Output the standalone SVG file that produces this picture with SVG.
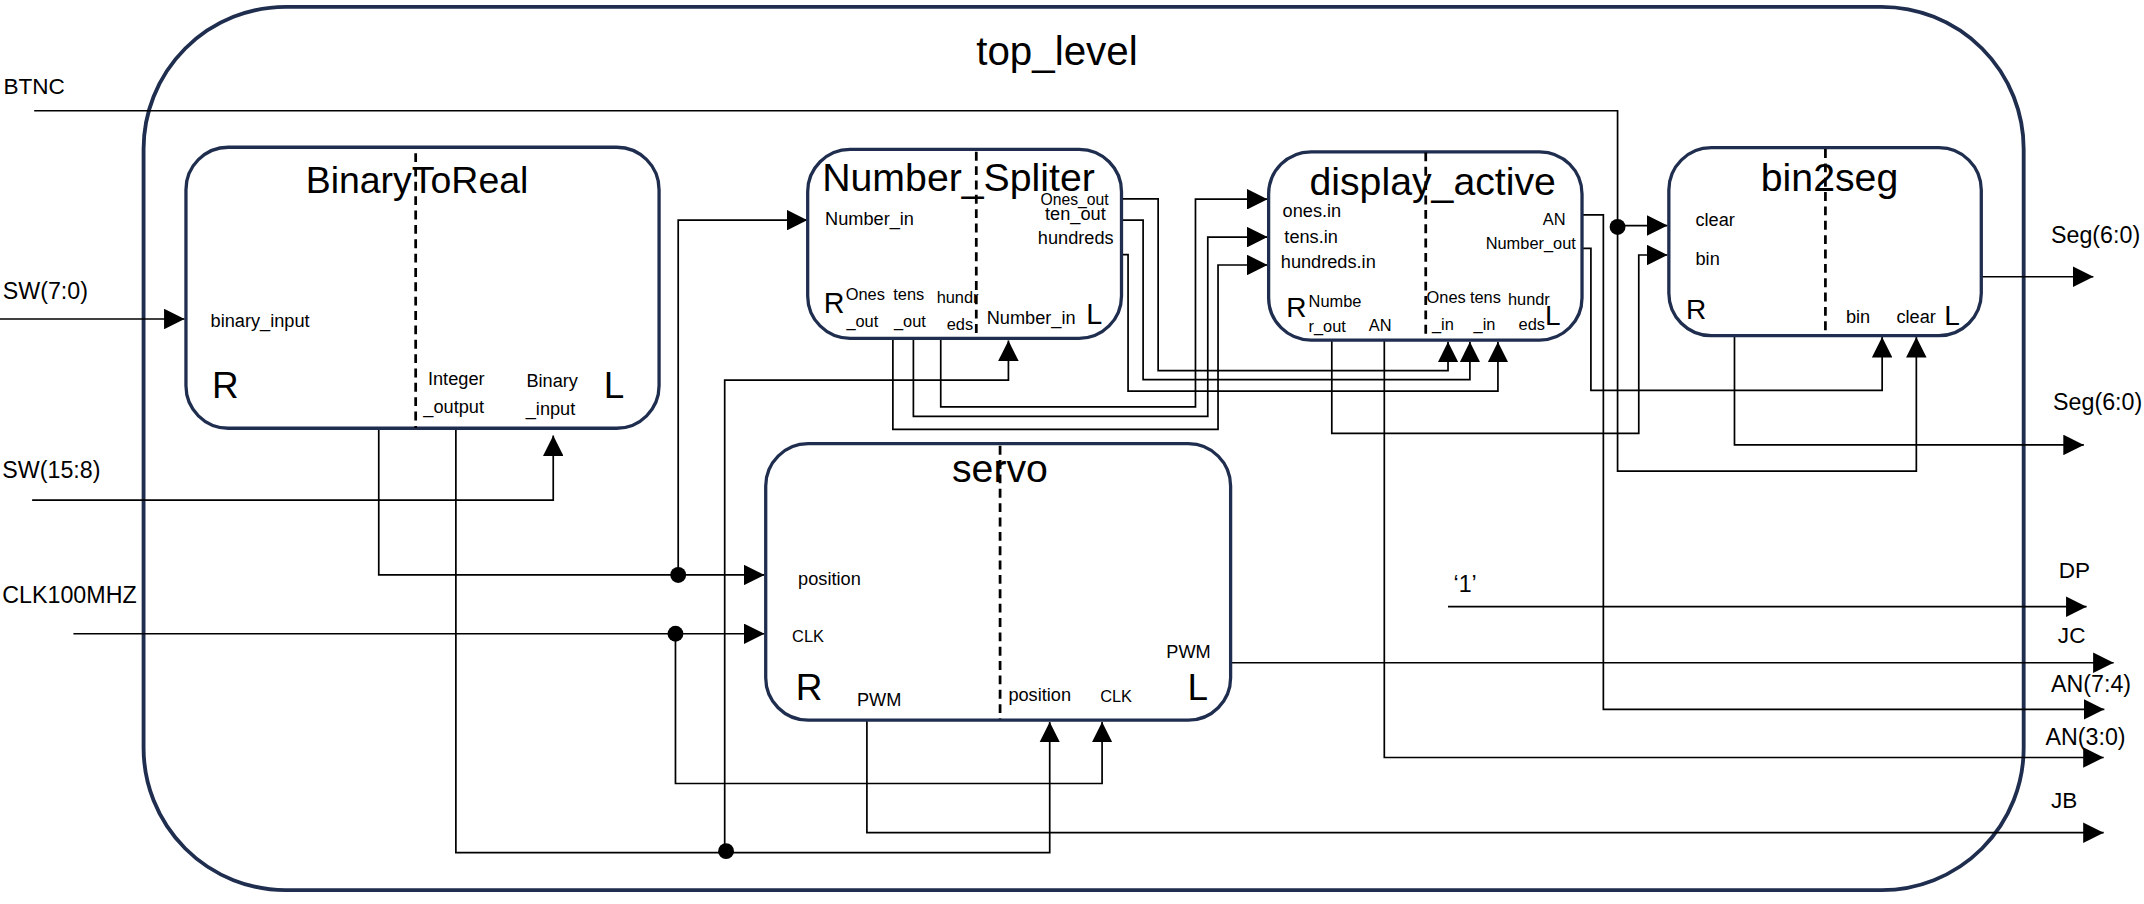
<svg xmlns="http://www.w3.org/2000/svg" width="2144" height="904" viewBox="0 0 2144 904">
<style>
.outer{fill:none;stroke:#1F2D4F;stroke-width:2.8}
.box{fill:none;stroke:#1F2D4F;stroke-width:2.4}
.dash{fill:none;stroke:#000;stroke-width:2;stroke-dasharray:6.5 4}
.w{fill:none;stroke:#000;stroke-width:1.25}
.wa{fill:none;stroke:#000;stroke-width:1.25;marker-end:url(#ah)}
.dot{fill:#000}
text{font-family:"Liberation Sans",Arial,sans-serif;fill:#000}
.tt{font-size:29.5px;text-anchor:middle}
.t{font-size:28.7px;text-anchor:middle}
.t2{font-size:27.4px;text-anchor:middle}
.p{font-size:13.3px}
.ps{font-size:12px}
.pt{font-size:11.5px}
.pk{font-size:12px}
.end{text-anchor:end}
.sig{font-size:17px}
.sig2{font-size:16.5px}
.big{font-size:27px}
.mid{font-size:21px}
.sm{font-size:20.5px}
</style>
<defs>
<marker id="ah" markerUnits="userSpaceOnUse" markerWidth="15" markerHeight="15" viewBox="0 0 15 15" refX="15" refY="7.5" orient="auto"><path d="M0,0L15,7.5L0,15z" fill="#000"/></marker>
</defs>
<rect width="2144" height="904" fill="#fff"/>
<g transform="scale(1.36735)">
<g id="top_level">
<rect class="outer" x="105" y="5" width="1375" height="646" rx="104"/>
<text class="tt" x="773" y="47.5">top_level</text>
</g>
<g id="connectors">
<polyline class="wa" points="25,81 1183,81 1183,344.5 1401.5,344.5 1401.5,246.5"/>
<polyline class="wa" points="1183,165 1219.5,165"/>
<circle class="dot" cx="1183" cy="166" r="5.8"/>
<polyline class="wa" points="0,233.3 135,233.3"/>
<polyline class="wa" points="23.5,365.7 404.6,365.7 404.6,318.5"/>
<polyline class="wa" points="53.7,463.5 559,463.5"/>
<circle class="dot" cx="494" cy="463.5" r="5.8"/>
<polyline class="wa" points="494,463.5 494,573 806,573 806,528"/>
<polyline class="wa" points="277,313.2 277,420.5 559,420.5"/>
<circle class="dot" cx="496" cy="420.5" r="5.8"/>
<polyline class="wa" points="496,420.5 496,161 590.5,161"/>
<polyline class="wa" points="333.4,313.2 333.4,623.5 767.7,623.5 767.7,528"/>
<circle class="dot" cx="531" cy="622.5" r="5.8"/>
<polyline class="wa" points="530,623.5 530,278 737.5,278 737.5,249"/>
<polyline class="wa" points="820.4,145.5 847,145.5 847,271 1059,271 1059,250"/>
<polyline class="wa" points="820.4,161 836,161 836,277.7 1075,277.7 1075,250"/>
<polyline class="wa" points="820.4,186.2 825,186.2 825,286 1095.5,286 1095.5,250"/>
<polyline class="wa" points="688,247.4 688,297.5 874.3,297.5 874.3,145.7 927,145.7"/>
<polyline class="wa" points="668,247.4 668,304.5 883.3,304.5 883.3,173.4 927,173.4"/>
<polyline class="wa" points="653,247.4 653,314 890.8,314 890.8,193.8 927,193.8"/>
<polyline class="wa" points="1157,157.2 1172.6,157.2 1172.6,518.8 1539,518.8"/>
<polyline class="wa" points="1157,181.6 1163.5,181.6 1163.5,285.5 1376.5,285.5 1376.5,246.5"/>
<polyline class="wa" points="974,248.7 974,317 1198.5,317 1198.5,186.5 1219.5,186.5"/>
<polyline class="wa" points="1012.4,248.7 1012.4,554 1538.5,554"/>
<polyline class="wa" points="1449,202.4 1531,202.4"/>
<polyline class="wa" points="1268.5,245.5 1268.5,325.4 1524,325.4"/>
<polyline class="wa" points="1059,443.7 1526,443.7"/>
<polyline class="wa" points="900,484.7 1545.8,484.7"/>
<polyline class="wa" points="634,526.7 634,609 1538.5,609"/>
<line class="w" x1="333.4" y1="313.2" x2="386" y2="313.2"/>
<line class="w" x1="632" y1="247.4" x2="688" y2="247.4"/>
<line class="w" x1="974" y1="248.7" x2="1012.4" y2="248.7"/>
<line class="w" x1="1268.5" y1="245.5" x2="1286" y2="245.5"/>
<line class="w" x1="634" y1="526.7" x2="667.6" y2="526.7"/>
</g>
<g id="signals">
<text class="sig2" x="2.5" y="69">BTNC</text>
<text class="sig" x="2" y="218.7">SW(7:0)</text>
<text class="sig" x="1.7" y="349.9">SW(15:8)</text>
<text class="sig" x="1.7" y="441.3">CLK100MHZ</text>
<text class="sig" x="1500" y="178">Seg(6:0)</text>
<text class="sig" x="1501.5" y="300">Seg(6:0)</text>
<text class="sig2" x="1505.7" y="423">DP</text>
<text class="sig" x="1063" y="433">‘1’</text>
<text class="sig2" x="1505" y="470.5">JC</text>
<text class="sig" x="1500" y="506">AN(7:4)</text>
<text class="sig" x="1496" y="545">AN(3:0)</text>
<text class="sig2" x="1500" y="591">JB</text>
</g>
<g id="BinaryToReal">
<rect class="box" x="136" y="107.7" width="346" height="205.5" rx="31"/>
<line class="dash" x1="304" y1="112" x2="304" y2="313"/>
<text class="t2" x="305" y="141">BinaryToReal</text>
<text class="p" x="154" y="239">binary_input</text>
<text class="big" x="155" y="291">R</text>
<text class="p" x="313" y="281.6">Integer</text>
<text class="p" x="309.6" y="301.8">_output</text>
<text class="p" x="385" y="282.8">Binary</text>
<text class="p" x="384.5" y="303.5">_input</text>
<text class="big" x="441.6" y="291">L</text>
</g>
<g id="Number_Spliter">
<rect class="box" x="590.7" y="109.2" width="229.5" height="138.2" rx="31"/>
<line class="dash" x1="714" y1="111" x2="714" y2="244"/>
<text class="t" x="701" y="139.5">Number_Spliter</text>
<text class="pt" x="761" y="150">Ones_out</text>
<text class="p" x="764.3" y="161">ten_out</text>
<text class="p" x="603.4" y="164.6">Number_in</text>
<text class="p" x="759" y="178.7">hundreds</text>
<text class="mid" x="602.5" y="229.2">R</text>
<text class="ps" x="618.5" y="219.4">Ones</text>
<text class="ps" x="619" y="239.5">_out</text>
<text class="ps" x="653.3" y="219.4">tens</text>
<text class="ps" x="653.8" y="239.5">_out</text>
<text class="ps" x="685" y="221.8">hundr</text>
<text class="ps" x="692.4" y="241.4">eds</text>
<text class="p" x="721.6" y="237.2">Number_in</text>
<text class="mid" x="794.5" y="237">L</text>
</g>
<g id="display_active">
<rect class="box" x="927.8" y="111" width="229.2" height="137.7" rx="31"/>
<line class="dash" x1="1042.7" y1="111.5" x2="1042.7" y2="244"/>
<text class="t" x="1047.8" y="142.6">display_active</text>
<text class="p" x="938" y="158.5">ones.in</text>
<text class="p" x="939.3" y="177.5">tens.in</text>
<text class="p" x="936.7" y="196.2">hundreds.in</text>
<text class="ps end" x="1145" y="164.6">AN</text>
<text class="ps end" x="1152.5" y="182.4">Number_out</text>
<text class="sm" x="940.6" y="231.6">R</text>
<text class="ps" x="957" y="224.3">Numbe</text>
<text class="ps" x="957" y="242.6">r_out</text>
<text class="ps" x="1001" y="242">AN</text>
<text class="ps" x="1043.3" y="221.4">Ones</text>
<text class="ps" x="1047.2" y="241.4">_in</text>
<text class="ps" x="1075" y="221.4">tens</text>
<text class="ps" x="1077.7" y="241.4">_in</text>
<text class="ps" x="1102.8" y="223">hundr</text>
<text class="ps" x="1110.6" y="241.4">eds</text>
<text class="sm" x="1130" y="237.7">L</text>
</g>
<g id="bin2seg">
<rect class="box" x="1220.5" y="108" width="228.5" height="137.5" rx="31"/>
<line class="dash" x1="1335" y1="109" x2="1335" y2="242"/>
<text class="t" x="1338" y="140">bin2seg</text>
<text class="p" x="1240" y="165">clear</text>
<text class="p" x="1240" y="194">bin</text>
<text class="sm" x="1233" y="233">R</text>
<text class="p" x="1350" y="236.5">bin</text>
<text class="p" x="1387" y="236.5">clear</text>
<text class="sm" x="1422" y="237.7">L</text>
</g>
<g id="servo">
<rect class="box" x="560" y="324.5" width="340" height="202.2" rx="31"/>
<line class="dash" x1="731.4" y1="326" x2="731.4" y2="526"/>
<text class="t" x="731.3" y="352.3">servo</text>
<text class="p" x="583.7" y="427.9">position</text>
<text class="pk" x="579.3" y="469.3">CLK</text>
<text class="big" x="582" y="512">R</text>
<text class="p" x="626.7" y="516.4">PWM</text>
<text class="p" x="737.5" y="512.5">position</text>
<text class="pk" x="804.6" y="513.2">CLK</text>
<text class="p" x="853" y="481.5">PWM</text>
<text class="big" x="868.5" y="512">L</text>
</g>
</g>
</svg>
